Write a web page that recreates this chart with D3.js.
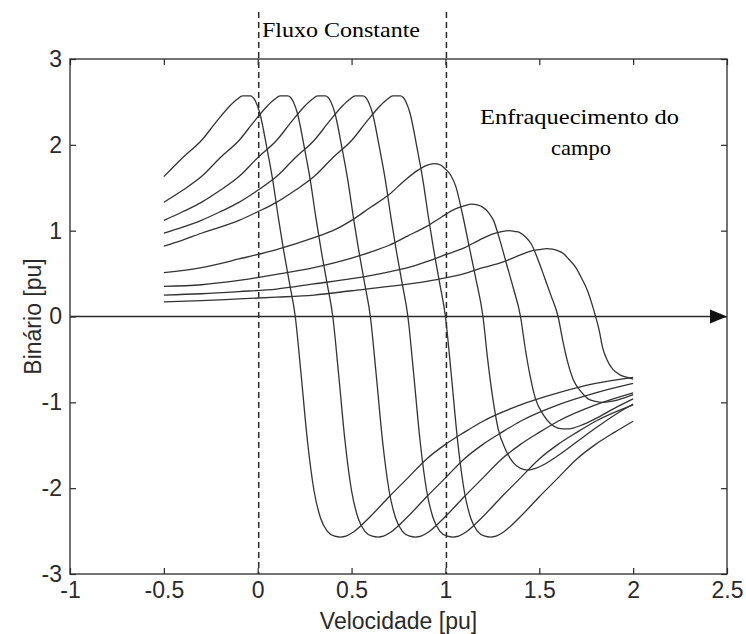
<!DOCTYPE html>
<html>
<head>
<meta charset="utf-8">
<script src="https://cdn.jsdelivr.net/npm/d3@7"></script>
<style>
body { margin: 0; background: #fff; }
svg { display: block; }
</style>
</head>
<body>
<svg id="chart" width="746" height="634"></svg>
<script>
// torque [pu] against speed [pu], one list per supply frequency
const curve02 = [[-0.5,1.63],[-0.4,1.85],[-0.3,2.05],[-0.22,2.27],[-0.15,2.45],[-0.11,2.53],[-0.08,2.57],[-0.04,2.57],[-0.01,2.50],[0.01,2.38],[0.05,1.95],[0.08,1.59],[0.11,1.15],[0.135,0.81],[0.17,0.38],[0.2,0],
  [0.23,-0.65],[0.265,-1.45],[0.30,-2.03],[0.335,-2.35],[0.37,-2.50],[0.41,-2.56],[0.44,-2.57],[0.47,-2.56],[0.51,-2.51],[0.60,-2.33],[0.70,-2.10],[0.80,-1.88],[0.90,-1.66],[1.0,-1.49],[1.1,-1.35],[1.2,-1.22],[1.4,-1.03],[1.6,-0.89],[1.8,-0.78],[2.0,-0.71]];
const curve04 = [[-0.5,1.33],[-0.4,1.47],[-0.3,1.63],[-0.2,1.85],[-0.1,2.05],[-0.02,2.27],[0.05,2.45],[0.09,2.53],[0.12,2.57],[0.16,2.57],[0.19,2.50],[0.21,2.38],[0.25,1.95],[0.28,1.59],[0.31,1.15],[0.335,0.81],[0.37,0.38],[0.4,0],
  [0.43,-0.65],[0.465,-1.45],[0.50,-2.03],[0.535,-2.35],[0.57,-2.50],[0.61,-2.56],[0.64,-2.57],[0.67,-2.56],[0.71,-2.51],[0.80,-2.33],[0.90,-2.10],[1.0,-1.88],[1.1,-1.66],[1.2,-1.49],[1.3,-1.35],[1.4,-1.22],[1.6,-1.03],[1.8,-0.89],[2.0,-0.78]];
const curve06 = [[-0.5,1.12],[-0.4,1.22],[-0.3,1.33],[-0.2,1.47],[-0.1,1.63],[0,1.85],[0.1,2.05],[0.18,2.27],[0.25,2.45],[0.29,2.53],[0.32,2.57],[0.36,2.57],[0.39,2.50],[0.41,2.38],[0.45,1.95],[0.48,1.59],[0.51,1.15],[0.535,0.81],[0.57,0.38],[0.6,0],
  [0.63,-0.65],[0.665,-1.45],[0.70,-2.03],[0.735,-2.35],[0.77,-2.50],[0.81,-2.56],[0.84,-2.57],[0.87,-2.56],[0.91,-2.51],[1.0,-2.33],[1.1,-2.10],[1.2,-1.88],[1.3,-1.66],[1.4,-1.49],[1.5,-1.35],[1.6,-1.22],[1.8,-1.03],[2.0,-0.89]];
const curve08 = [[-0.5,0.97],[-0.4,1.04],[-0.3,1.12],[-0.2,1.22],[-0.1,1.33],[0,1.47],[0.1,1.63],[0.2,1.85],[0.3,2.05],[0.38,2.27],[0.45,2.45],[0.49,2.53],[0.52,2.57],[0.56,2.57],[0.59,2.50],[0.61,2.38],[0.65,1.95],[0.68,1.59],[0.71,1.15],[0.735,0.81],[0.77,0.38],[0.8,0],
  [0.83,-0.65],[0.865,-1.45],[0.90,-2.03],[0.935,-2.35],[0.97,-2.50],[1.01,-2.56],[1.04,-2.57],[1.07,-2.56],[1.11,-2.51],[1.2,-2.33],[1.3,-2.10],[1.4,-1.88],[1.5,-1.66],[1.6,-1.49],[1.7,-1.35],[1.8,-1.22],[2.0,-1.03]];
const curve10 = [[-0.5,0.82],[-0.4,0.89],[-0.3,0.97],[-0.2,1.04],[-0.1,1.12],[0,1.22],[0.1,1.33],[0.2,1.47],[0.3,1.63],[0.4,1.85],[0.5,2.05],[0.58,2.27],[0.65,2.45],[0.69,2.53],[0.72,2.57],[0.76,2.57],[0.79,2.50],[0.81,2.38],[0.85,1.95],[0.88,1.59],[0.91,1.15],[0.935,0.81],[0.97,0.38],[1.0,0],
  [1.03,-0.65],[1.065,-1.45],[1.10,-2.03],[1.135,-2.35],[1.17,-2.50],[1.21,-2.56],[1.24,-2.57],[1.27,-2.56],[1.31,-2.51],[1.4,-2.33],[1.5,-2.10],[1.6,-1.88],[1.7,-1.66],[1.8,-1.49],[1.9,-1.35],[2.0,-1.22]];
const curve12 = [[-0.5,0.51],[-0.3,0.57],[-0.1,0.67],[0.1,0.78],[0.3,0.92],[0.4,1.0],[0.5,1.12],[0.6,1.27],[0.7,1.42],[0.78,1.58],[0.85,1.70],[0.90,1.76],[0.94,1.78],[0.97,1.77],[0.994,1.73],[1.03,1.64],[1.056,1.51],[1.09,1.20],[1.127,0.81],[1.163,0.43],[1.2,0],
  [1.225,-0.50],[1.25,-0.92],[1.28,-1.30],[1.32,-1.55],[1.36,-1.70],[1.40,-1.77],[1.44,-1.79],[1.48,-1.77],[1.52,-1.73],[1.6,-1.62],[1.7,-1.46],[1.8,-1.30],[1.9,-1.15],[2.0,-1.02]];
const curve14 = [[-0.5,0.35],[-0.3,0.37],[-0.1,0.42],[0.1,0.49],[0.3,0.57],[0.5,0.68],[0.6,0.75],[0.7,0.83],[0.8,0.94],[0.9,1.05],[0.98,1.16],[1.05,1.25],[1.10,1.29],[1.14,1.31],[1.17,1.30],[1.194,1.28],[1.23,1.21],[1.256,1.12],[1.29,0.89],[1.327,0.60],[1.363,0.32],[1.4,0],
  [1.425,-0.37],[1.45,-0.68],[1.48,-0.96],[1.52,-1.14],[1.56,-1.25],[1.60,-1.30],[1.64,-1.31],[1.68,-1.30],[1.72,-1.27],[1.8,-1.19],[1.9,-1.07],[2.0,-0.96]];
const curve16 = [[-0.5,0.25],[-0.3,0.265],[-0.1,0.29],[0.1,0.32],[0.3,0.38],[0.5,0.44],[0.7,0.52],[0.8,0.57],[0.9,0.64],[1.0,0.72],[1.1,0.80],[1.18,0.89],[1.25,0.96],[1.30,0.99],[1.34,1.0],[1.37,0.99],[1.394,0.98],[1.43,0.92],[1.456,0.85],[1.49,0.68],[1.527,0.46],[1.563,0.24],[1.6,0],
  [1.625,-0.28],[1.65,-0.52],[1.68,-0.73],[1.72,-0.87],[1.76,-0.96],[1.80,-0.99],[1.84,-1.0],[1.88,-0.99],[1.92,-0.97],[2.0,-0.91]];
const curve18 = [[-0.5,0.17],[-0.3,0.185],[-0.1,0.205],[0.1,0.225],[0.3,0.25],[0.5,0.30],[0.7,0.35],[0.9,0.41],[1.0,0.45],[1.1,0.50],[1.2,0.57],[1.3,0.63],[1.38,0.70],[1.45,0.76],[1.50,0.78],[1.54,0.79],[1.57,0.785],[1.594,0.77],[1.63,0.73],[1.656,0.67],[1.695,0.57],[1.727,0.44],[1.757,0.30],[1.78,0.15],[1.8,0],
  [1.82,-0.17],[1.837,-0.36],[1.86,-0.50],[1.89,-0.61],[1.93,-0.68],[1.97,-0.71],[2.0,-0.73]];

const curves = [curve02, curve04, curve06, curve08, curve10, curve12, curve14, curve16, curve18];
const xTicks = [-1, -0.5, 0, 0.5, 1, 1.5, 2, 2.5];
const yTicks = [-3, -2, -1, 0, 1, 2, 3];
const regionLines = [0, 1];

const svg = d3.select("#chart");
const width = 746, height = 634;
const margin = {left: 70, right: 19, top: 59, bottom: 60};
const ink = "#2a2a2a";

const x = d3.scaleLinear().domain([-1, 2.5]).range([margin.left, width - margin.right]);
const y = d3.scaleLinear().domain([-3, 3]).range([height - margin.bottom, margin.top]);

const styleAxis = (g) => {
    g.select(".domain").remove();
    g.selectAll(".tick line").attr("stroke", ink).attr("stroke-width", 1.2);
    g.selectAll(".tick text")
        .attr("fill", ink)
        .style("font-family", "'Liberation Sans', Arial, sans-serif")
        .style("font-size", "23px");
};

// axes, ticks point inwards
svg.append("g").attr("transform", "translate(0," + y(-3) + ")")
    .call(d3.axisBottom(x).tickValues(xTicks).tickSize(-6).tickPadding(8).tickFormat(d => String(d)))
    .call(styleAxis);
svg.append("g").attr("transform", "translate(0," + y(3) + ")")
    .call(d3.axisTop(x).tickValues(xTicks).tickSize(-6).tickFormat(""))
    .call(styleAxis);
svg.append("g").attr("transform", "translate(" + x(-1) + ",0)")
    .call(d3.axisLeft(y).tickValues(yTicks).tickSize(-6).tickPadding(8).tickFormat(d => String(d)))
    .call(styleAxis);
svg.append("g").attr("transform", "translate(" + x(2.5) + ",0)")
    .call(d3.axisRight(y).tickValues(yTicks).tickSize(-6).tickFormat(""))
    .call(styleAxis);

svg.append("rect")
    .attr("x", x(-1)).attr("y", y(3))
    .attr("width", x(2.5) - x(-1)).attr("height", y(-3) - y(3))
    .attr("fill", "none").attr("stroke", ink).attr("stroke-width", 1.3);

// zero line with arrow
svg.append("line")
    .attr("x1", x(-1)).attr("x2", x(2.5) - 10)
    .attr("y1", y(0)).attr("y2", y(0))
    .attr("stroke", ink).attr("stroke-width", 1.5);
svg.append("path")
    .attr("d", "M" + x(2.5) + "," + y(0) + "L" + (x(2.5) - 17) + "," + (y(0) - 7) + "L" + (x(2.5) - 17) + "," + (y(0) + 7) + "Z")
    .attr("fill", "#111");

// region borders
svg.selectAll("line.region")
    .data(regionLines)
    .enter().append("line")
    .attr("class", "region")
    .attr("x1", d => x(d) + 1).attr("x2", d => x(d) + 1)
    .attr("y1", 12).attr("y2", y(-3))
    .attr("stroke", ink).attr("stroke-width", 1.5)
    .attr("stroke-dasharray", "6,4");

// torque-speed curves
const line = d3.line()
    .x(d => x(d[0]))
    .y(d => y(d[1]))
    .curve(d3.curveMonotoneX);
svg.selectAll("path.curve")
    .data(curves)
    .enter().append("path")
    .attr("class", "curve")
    .attr("d", line)
    .attr("fill", "none")
    .attr("stroke", "#333")
    .attr("stroke-width", 1.3);

// labels
const sans = "'Liberation Sans', Arial, sans-serif";
const serif = "'Liberation Serif', 'Times New Roman', serif";
svg.append("text")
    .attr("x", (x(-1) + x(2.5)) / 2).attr("y", 629)
    .attr("text-anchor", "middle")
    .style("font-family", sans).style("font-size", "23px").attr("fill", ink)
    .text("Velocidade [pu]");
svg.append("text")
    .attr("transform", "translate(41," + y(0) + ") rotate(-90)")
    .attr("text-anchor", "middle")
    .style("font-family", sans).style("font-size", "23px").attr("fill", ink)
    .text("Binário [pu]");

svg.append("text")
    .attr("x", 262).attr("y", 37)
    .attr("textLength", 158).attr("lengthAdjust", "spacingAndGlyphs")
    .style("font-family", serif).style("font-size", "21px").attr("fill", "#000")
    .text("Fluxo Constante");
svg.append("text")
    .attr("x", 480).attr("y", 124)
    .attr("textLength", 199).attr("lengthAdjust", "spacingAndGlyphs")
    .style("font-family", serif).style("font-size", "21px").attr("fill", "#000")
    .text("Enfraquecimento do");
svg.append("text")
    .attr("x", 551).attr("y", 155)
    .attr("textLength", 60).attr("lengthAdjust", "spacingAndGlyphs")
    .style("font-family", serif).style("font-size", "21px").attr("fill", "#000")
    .text("campo");
</script>
</body>
</html>
